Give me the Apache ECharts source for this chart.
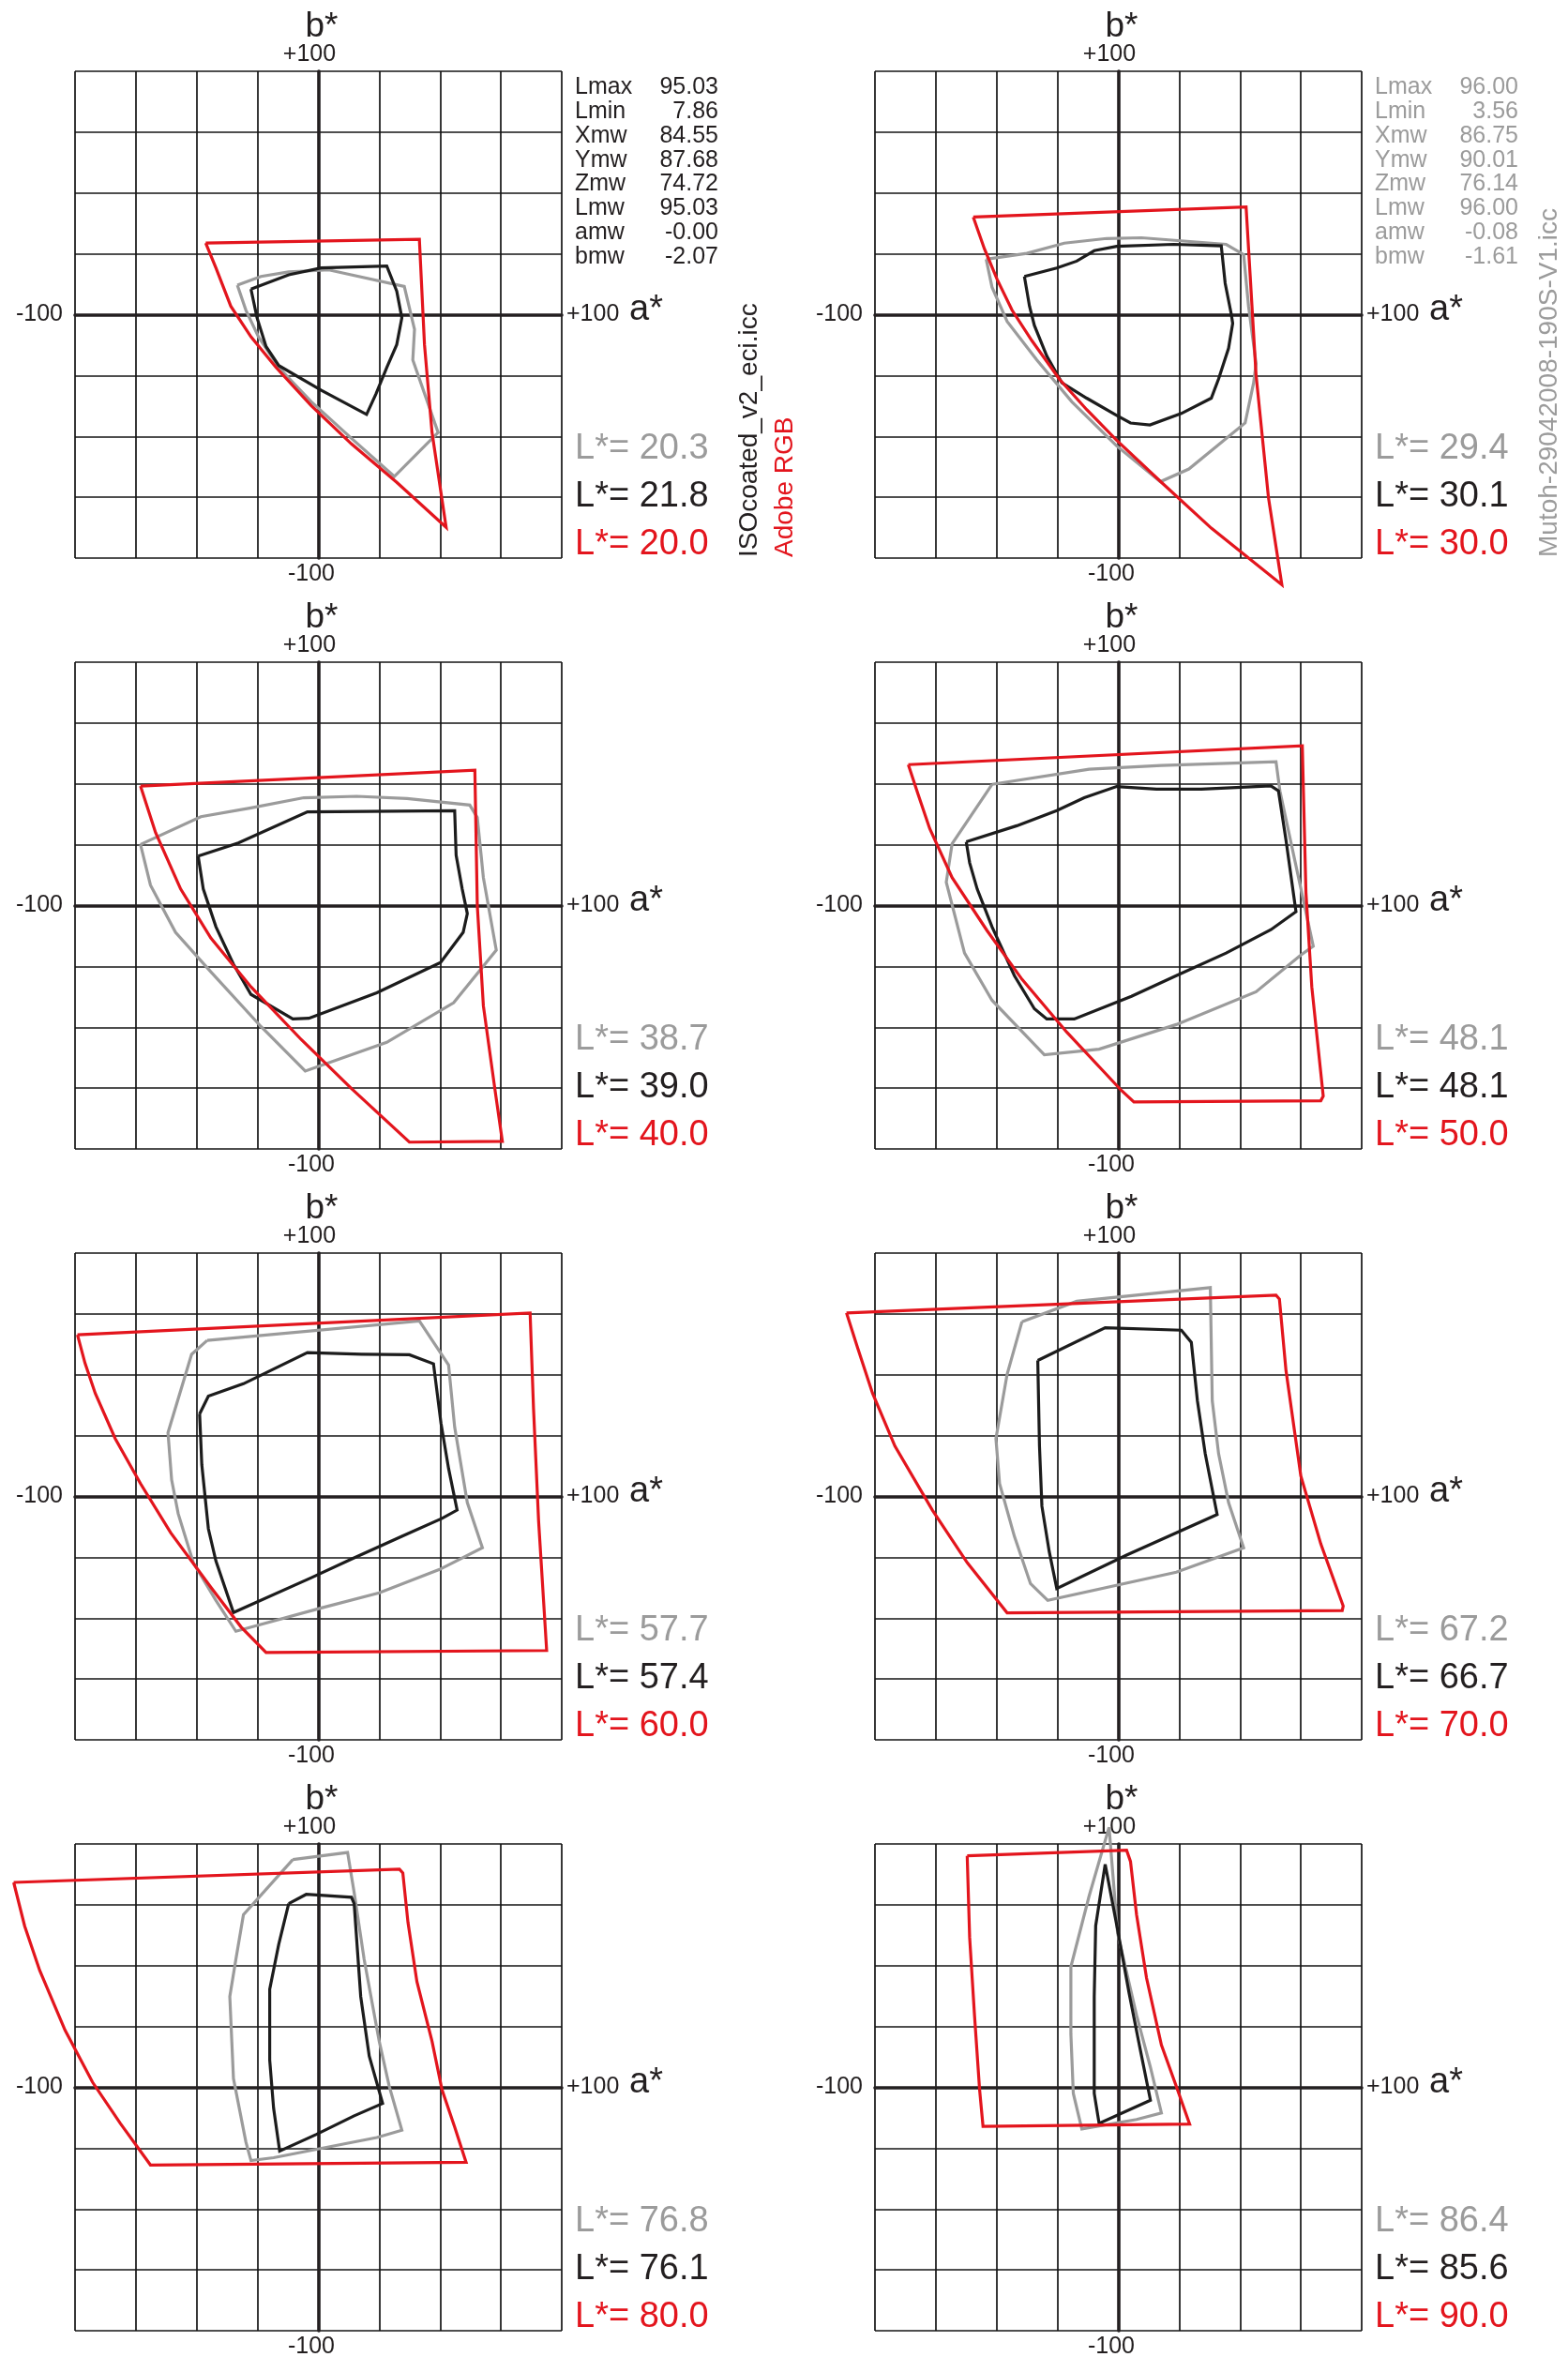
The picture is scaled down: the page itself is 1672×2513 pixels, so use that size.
<!DOCTYPE html>
<html>
<head>
<meta charset="utf-8">
<script src="https://cdn.jsdelivr.net/npm/echarts@6/dist/echarts.min.js"></script>
<style>
  html, body { margin: 0; padding: 0; background: #fff; }
  #chart { width: 1672px; height: 2513px; }
</style>
</head>
<body>
<div id="chart"></div>
<script>
// a*/b* gamut slices, one panel per lightness level
var mutoh20 = [[-33.3,12.1],[-23.6,15.7],[-12.2,17.6],[4.3,18.4],[35.3,11.6],[39.5,-6.0],[38.8,-18.6],[49.2,-48.4],[31.2,-66.5],[13.6,-50.8],[-2.9,-35.8],[-16.3,-21.7],[-24.6,-9.1],[-29.8,1.9]];
var iso20 = [[-27.7,10.5],[-12.2,16.4],[1.2,19.2],[28.1,20.0],[32.2,9.7],[34.3,-1.3],[32.2,-12.3],[28.1,-21.7],[23.6,-32.7],[19.8,-41.0],[1.2,-31.1],[-16.3,-20.9],[-21.5,-13.1],[-25.2,-1.3]];
var adobe20 = [[-46.3,29.4],[41.5,31.0],[43.6,-12.3],[46.7,-48.4],[52.5,-87.4],[32.2,-68.9],[13.6,-53.1],[-2.9,-37.4],[-17.4,-21.7],[-27.7,-9.1],[-36.0,3.5],[-42.1,19.2]];

var mutoh30 = [[-54.3,22.8],[-37.6,25.2],[-22.2,29.4],[-4.8,31.3],[9.5,31.6],[44.3,28.9],[51.5,24.7],[53.5,3.5],[56.6,-20.1],[55.6,-28.0],[52.1,-44.5],[29.0,-63.4],[17.3,-68.6],[-0.7,-53.9],[-19.1,-35.8],[-33.5,-18.6],[-45.7,-2.8],[-51.9,11.3]];
var iso30 = [[-38.6,15.7],[-25.3,19.2],[-17.1,22.0],[-9.9,26.3],[-0.7,28.1],[22.8,28.9],[42.3,28.3],[43.9,12.9],[46.4,0.3],[47.0,-3.6],[45.3,-13.8],[41.2,-26.4],[38.2,-34.3],[25.9,-40.6],[13.0,-45.3],[5.0,-44.5],[-0.7,-41.4],[-13.0,-34.3],[-23.2,-28.0],[-29.4,-17.0],[-34.5,-4.4],[-36.5,3.5]];
var adobe30 = [[-59.6,40.1],[52.5,44.3],[56.6,-24.8],[61.7,-75.2],[67.2,-111.0],[38.2,-87.7],[17.7,-68.9],[-0.7,-51.6],[-13.0,-39.0],[-24.3,-26.4],[-35.5,-10.7],[-43.7,1.9],[-49.8,14.5],[-55.0,27.0]];

var mutoh40 = [[-73.1,25.1],[-48.3,36.5],[-27.7,40.1],[-6.0,44.3],[15.7,44.9],[36.4,44.0],[62.2,41.3],[65.3,36.2],[67.8,11.5],[73.1,-18.3],[55.6,-39.9],[28.1,-56.2],[-5.4,-68.0],[-23.6,-49.7],[-44.2,-27.2],[-58.7,-11.0],[-69.0,8.4]];
var iso40 = [[-49.4,20.3],[-32.9,25.7],[-4.5,38.5],[56.0,39.0],[56.6,20.7],[59.1,6.8],[61.2,-3.3],[59.5,-11.0],[50.2,-23.4],[24.0,-35.8],[-3.9,-46.3],[-10.5,-46.6],[-27.7,-36.5],[-34.9,-24.1],[-42.1,-8.7],[-47.3,6.8]];
var adobe40 = [[-73.1,49.1],[64.3,55.6],[65.3,0],[67.8,-41.2],[72.5,-75.2],[75.6,-96.9],[37.4,-97.2],[13.6,-75.2],[-7.0,-55.1],[-27.7,-33.4],[-44.2,-13.3],[-56.6,6.8],[-66.9,30.0]];

var mutoh50 = [[-51.9,49.8],[-12.0,56.0],[17.7,57.6],[64.8,59.1],[66.4,47.1],[80.1,-16.7],[75.0,-20.3],[56.6,-35.4],[23.8,-48.9],[-7.9,-59.0],[-30.4,-61.3],[-51.9,-38.9],[-63.2,-19.5],[-70.7,9.6],[-68.3,25.4]];
var iso50 = [[-62.5,26.2],[-41.7,32.8],[-25.3,39.0],[-14.0,44.3],[-0.7,48.9],[15.7,47.8],[34.1,47.8],[62.7,49.2],[65.8,47.1],[68.9,26.9],[73.0,-2.5],[62.7,-9.9],[44.3,-19.5],[23.8,-28.8],[5.4,-37.3],[-18.1,-46.6],[-29.4,-46.6],[-34.5,-42.4],[-42.7,-28.8],[-51.9,-8.7],[-58.0,6.8],[-61.1,17.6]];
var adobe50 = [[-86.3,57.9],[75.6,65.6],[77.1,5.3],[79.5,-33.4],[84.2,-78.3],[83.2,-80.2],[6.4,-80.7],[1.3,-76.0],[-21.2,-52.0],[-39.6,-30.3],[-54.0,-10.2],[-68.3,11.5],[-77.5,31.6],[-82.2,45.5]];

var mutoh60 = [[-45.7,64.1],[41.5,72.1],[53.5,54.0],[56.0,28.5],[61.2,-2.5],[67.4,-21.1],[49.8,-30.0],[25.0,-39.6],[1.2,-45.8],[-33.9,-55.4],[-42.1,-42.7],[-51.4,-27.2],[-57.6,-7.1],[-60.3,6.8],[-61.8,26.2],[-52.1,58.4]];
var iso60 = [[-48.8,33.9],[-45.2,41.2],[-30.8,46.3],[-4.5,59.1],[17.8,58.4],[37.4,58.2],[47.3,54.5],[50.4,30.0],[53.5,11.5],[57.0,-5.6],[50.8,-9.0],[34.3,-16.4],[13.6,-25.7],[-2.9,-33.4],[-34.9,-47.7],[-42.1,-26.5],[-45.2,-13.3],[-47.9,13.0]];
var adobe60 = [[-99.0,66.4],[87.0,75.4],[88.4,36.2],[90.5,-10.2],[93.8,-63.3],[-21.5,-64.1],[-31.8,-53.6],[-44.2,-37.3],[-60.7,-14.9],[-73.1,5.3],[-83.5,23.8],[-91.7,42.4],[-95.9,54.8]];

var mutoh70 = [[-39.6,71.8],[-17.1,80.2],[37.8,85.8],[38.6,39.3],[41.2,17.6],[45.3,-2.5],[51.5,-21.1],[23.8,-31.1],[-29.0,-42.7],[-36.1,-35.8],[-42.7,-16.4],[-48.8,5.3],[-50.3,23.8],[-45.7,50.2]];
var iso70 = [[-33.1,55.9],[-5.4,69.3],[25.9,68.3],[30.0,63.3],[32.5,39.3],[35.7,17.6],[40.6,-7.4],[3.4,-24.1],[-25.3,-37.8],[-28.4,-22.6],[-31.4,-4.0],[-32.4,20.7]];
var adobe70 = [[-111.7,75.4],[64.8,82.7],[66.2,81.1],[68.9,51.7],[75.0,8.4],[83.2,-19.5],[92.4,-45.0],[92.0,-46.9],[-45.7,-47.8],[-62.1,-27.2],[-76.4,-5.6],[-91.8,20.7],[-101.0,42.4],[-107.1,61.0]];

var mutoh80 = [[-10.5,93.6],[12.0,96.5],[14.7,80.1],[18.8,52.6],[25.0,18.9],[29.1,0.5],[34.3,-17.6],[24.0,-20.6],[-18.4,-28.9],[-27.7,-30.1],[-29.8,-22.4],[-34.9,3.6],[-36.4,37.3],[-33.9,52.6],[-30.8,70.9]];
var iso80 = [[-12.2,75.5],[-5.0,79.3],[13.6,78.1],[14.7,75.5],[16.1,55.6],[17.4,37.3],[20.9,12.8],[26.4,-6.6],[14.7,-11.7],[-0.8,-19.3],[-15.9,-26.2],[-18.4,-8.6],[-20.0,11.2],[-20.0,40.3],[-16.3,58.7]];
var adobe80 = [[-125.2,84.2],[33.3,89.6],[34.7,88.1],[36.8,67.9],[40.5,43.4],[46.7,18.9],[50.8,-1.0],[56.0,-16.3],[60.7,-30.8],[-69.0,-31.9],[-81.4,-14.8],[-92.8,2.1],[-104.1,23.5],[-114.5,48.0],[-120.7,66.3]];

var mutoh90 = [[-3.8,106.9],[-0.3,63.3],[7.5,29.6],[13.2,8.2],[17.7,-10.5],[7.5,-13.2],[-15.0,-17.1],[-18.5,-2.5],[-19.5,22.0],[-19.5,49.5],[-12.0,78.6]];
var iso90 = [[-5.4,91.6],[-0.3,64.8],[4.4,38.8],[9.1,15.1],[13.2,-5.3],[-7.9,-14.8],[-9.9,-2.5],[-9.9,37.3],[-9.3,66.4]];
var adobe90 = [[-62.1,95.1],[3.4,97.4],[5.0,92.8],[7.5,70.9],[11.6,44.9],[17.7,17.4],[23.8,0.5],[29.3,-15.1],[-55.6,-16.0],[-57.0,-1.0],[-59.1,29.6],[-61.1,61.7]];

var lMutoh = ['20.3', '29.4', '38.7', '48.1', '57.7', '67.2', '76.8', '86.4'];
var lIso = ['21.8', '30.1', '39.0', '48.1', '57.4', '66.7', '76.1', '85.6'];
var lAdobe = ['20.0', '30.0', '40.0', '50.0', '60.0', '70.0', '80.0', '90.0'];

var statNames = ['Lmax', 'Lmin', 'Xmw', 'Ymw', 'Zmw', 'Lmw', 'amw', 'bmw'];
var isoStats = ['95.03', '7.86', '84.55', '87.68', '74.72', '95.03', '-0.00', '-2.07'];
var mutohStats = ['96.00', '3.56', '86.75', '90.01', '76.14', '96.00', '-0.08', '-1.61'];

var mutohSets = [mutoh20, mutoh30, mutoh40, mutoh50, mutoh60, mutoh70, mutoh80, mutoh90];
var isoSets = [iso20, iso30, iso40, iso50, iso60, iso70, iso80, iso90];
var adobeSets = [adobe20, adobe30, adobe40, adobe50, adobe60, adobe70, adobe80, adobe90];

var DARK = '#231f20', GRAY = '#9b9b9b', RED = '#e3151d';
var FONT = '"Liberation Sans", Arial, Helvetica, sans-serif';
var colLeft = [80, 933];
var rowTop = [76, 706, 1336, 1966];
var SIZE = 519;

function closed(pts) {
    return pts.concat([pts[0]]);
}
// text placed by its baseline
function txt(x, base, s, size, color, align) {
    return {
        type: 'text', x: x, y: base - 0.35 * size, silent: true,
        style: { text: s, font: size + 'px ' + FONT, fill: color, align: align || 'left', verticalAlign: 'middle' }
    };
}
// text reading bottom to top
function vtxt(baseX, bottom, s, size, color) {
    return {
        type: 'text', x: baseX - 0.35 * size, y: bottom, rotation: Math.PI / 2, silent: true,
        style: { text: s, font: size + 'px ' + FONT, fill: color, align: 'left', verticalAlign: 'middle' }
    };
}

var grids = [], xAxes = [], yAxes = [], series = [], graphics = [];

function axis(i) {
    return {
        type: 'value', gridIndex: i, min: -100, max: 100, interval: 25,
        axisLabel: { show: false },
        axisTick: { show: false },
        axisLine: { show: true, onZero: true, lineStyle: { color: DARK, width: 3.6 } },
        splitLine: { show: true, lineStyle: { color: '#141414', width: 1.7 } }
    };
}

// outline drawn through the axes; custom series so points past +-100 are not clamped
function outline(pts, color, i) {
    var data = closed(pts);
    return {
        type: 'custom', coordinateSystem: 'cartesian2d', xAxisIndex: i, yAxisIndex: i,
        data: data, encode: { x: 0, y: 1 }, clip: false, silent: true, z: 5,
        renderItem: function (params, api) {
            if (params.dataIndex !== 0) return null;
            return {
                type: 'polyline',
                shape: { points: data.map(function (p) { return api.coord(p); }) },
                style: { stroke: color, lineWidth: 3.2, fill: null, lineJoin: 'miter', miterLimit: 10 }
            };
        }
    };
}

for (var i = 0; i < 8; i++) {
    var gx = colLeft[i % 2], gy = rowTop[Math.floor(i / 2)];
    grids.push({ left: gx, top: gy, width: SIZE, height: SIZE, show: false });
    xAxes.push(axis(i));
    yAxes.push(axis(i));

    series.push(outline(mutohSets[i], GRAY, i));
    series.push(outline(isoSets[i], '#1c1c1c', i));
    series.push(outline(adobeSets[i], RED, i));

    graphics.push(txt(gx + 263, gy - 34, 'b*', 37, DARK, 'center'));
    graphics.push(txt(gx + 250, gy - 9, '+100', 25, DARK, 'center'));
    graphics.push(txt(gx + 252, gy + 545, '-100', 25, DARK, 'center'));
    graphics.push(txt(gx - 13, gy + 268, '-100', 25, DARK, 'right'));
    graphics.push(txt(gx + 524, gy + 268, '+100', 25, DARK, 'left'));
    graphics.push(txt(gx + 591, gy + 268, 'a*', 38, DARK, 'left'));

    graphics.push(txt(gx + 533, gy + 416, 'L*= ' + lMutoh[i], 38, GRAY, 'left'));
    graphics.push(txt(gx + 533, gy + 467, 'L*= ' + lIso[i], 38, DARK, 'left'));
    graphics.push(txt(gx + 533, gy + 518, 'L*= ' + lAdobe[i], 38, RED, 'left'));
}

// white point stats beside the first two panels
[[isoStats, DARK, 0], [mutohStats, GRAY, 1]].forEach(function (st) {
    var gx = colLeft[st[2]], gy = rowTop[0];
    for (var k = 0; k < statNames.length; k++) {
        graphics.push(txt(gx + 533, gy + 25.7 + 25.9 * k, statNames[k], 25, st[1], 'left'));
        graphics.push(txt(gx + 686, gy + 25.7 + 25.9 * k, st[0][k], 25, st[1], 'right'));
    }
});

graphics.push(vtxt(809, 594, 'ISOcoated_v2_eci.icc', 28, DARK));
graphics.push(vtxt(847, 594, 'Adobe RGB', 28, RED));
graphics.push(vtxt(1662, 594, 'Mutoh-29042008-190S-V1.icc', 28, GRAY));

var chart = echarts.init(document.getElementById('chart'));
chart.setOption({
    backgroundColor: '#ffffff',
    animation: false,
    grid: grids,
    xAxis: xAxes,
    yAxis: yAxes,
    series: series,
    graphic: graphics
});
</script>
</body>
</html>
